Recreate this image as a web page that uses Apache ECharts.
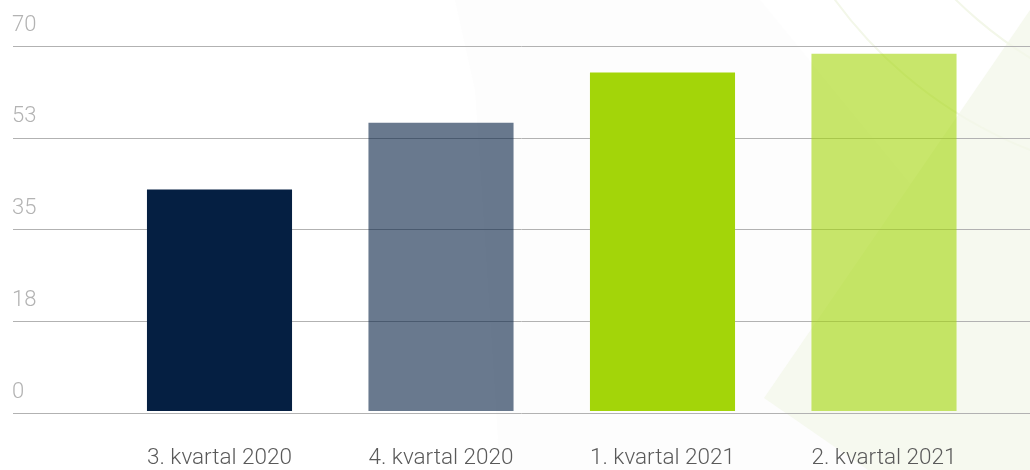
<!DOCTYPE html>
<html>
<head>
<meta charset="utf-8">
<script src="https://cdn.jsdelivr.net/npm/echarts@6/dist/echarts.min.js"></script>
<style>
html,body{margin:0;padding:0;background:#fff;}
#c{width:1030px;height:470px;}
</style>
</head>
<body>
<div id="c"></div>
<script>
const categories = ['3. kvartal 2020', '4. kvartal 2020', '1. kvartal 2021', '2. kvartal 2021'];
const values = [42.5, 55.3, 64.9, 68.5];
const barColors = ['#051f42', 'rgba(5,31,66,0.6)', '#a3d509', 'rgba(163,213,9,0.6)'];
const yTickLabels = ['0', '18', '35', '53', '70'];
const yMax = 70;

const chart = echarts.init(document.getElementById('c'), null, {renderer: 'canvas'});
const font = 'Roboto';
chart.setOption({
  animation: false,
  backgroundColor: '#fff',
  graphic: [
    {type: 'polygon', z: -10, silent: true,
      shape: {points: [[764, 398], [1030, 10], [1030, 470], [868, 470]]},
      style: {fill: '#f6f9ef'}},
    {type: 'polygon', z: -11, silent: true,
      shape: {points: [[455, 0], [760, 0], [1030, 330], [1030, 470], [500, 470], [475, 90]]},
      style: {fill: '#fdfdfd'}},
    {type: 'arc', z: -9, silent: true,
      shape: {cx: 1190, cy: -260, r: 440, startAngle: Math.PI * 0.55, endAngle: Math.PI * 0.9},
      style: {stroke: '#f3f7e9', lineWidth: 2, fill: null}},
    {type: 'arc', z: -9, silent: true,
      shape: {cx: 1250, cy: -300, r: 420, startAngle: Math.PI * 0.6, endAngle: Math.PI * 0.85},
      style: {stroke: '#f3f7e9', lineWidth: 2, fill: null}}
  ],
  grid: [
    {left: 13, right: 0, top: 46, bottom: 57},
    {left: 108.75, right: 35.25, top: 46, bottom: 57}
  ],
  xAxis: [
    {type: 'value', gridIndex: 0, show: false, min: 0, max: 1},
    {type: 'category', gridIndex: 1, data: categories,
      axisLine: {show: false}, axisTick: {show: false},
      axisLabel: {color: '#5a5a5a', fontFamily: font, fontWeight: 300, fontSize: 22.5, margin: 36}}
  ],
  yAxis: [
    {type: 'value', gridIndex: 0, min: 0, max: yMax, interval: yMax / 4,
      axisLine: {show: false}, axisTick: {show: false},
      splitLine: {lineStyle: {color: '#b2b2b2', width: 1}},
      axisLabel: {inside: true, margin: -1, align: 'left', verticalAlign: 'bottom',
        padding: [0, 0, 10, 0],
        color: '#b3b3b3', fontFamily: font, fontWeight: 300, fontSize: 22,
        formatter: (v) => yTickLabels[Math.round(v / (yMax / 4))]}},
    {type: 'value', gridIndex: 1, min: 0, max: yMax, show: false, splitLine: {show: false}}
  ],
  series: [{
    type: 'bar', xAxisIndex: 1, yAxisIndex: 1,
    barWidth: '65.5%',
    data: values.map((v, i) => ({value: v, itemStyle: {color: barColors[i]}}))
  }]
});
</script>
</body>
</html>
